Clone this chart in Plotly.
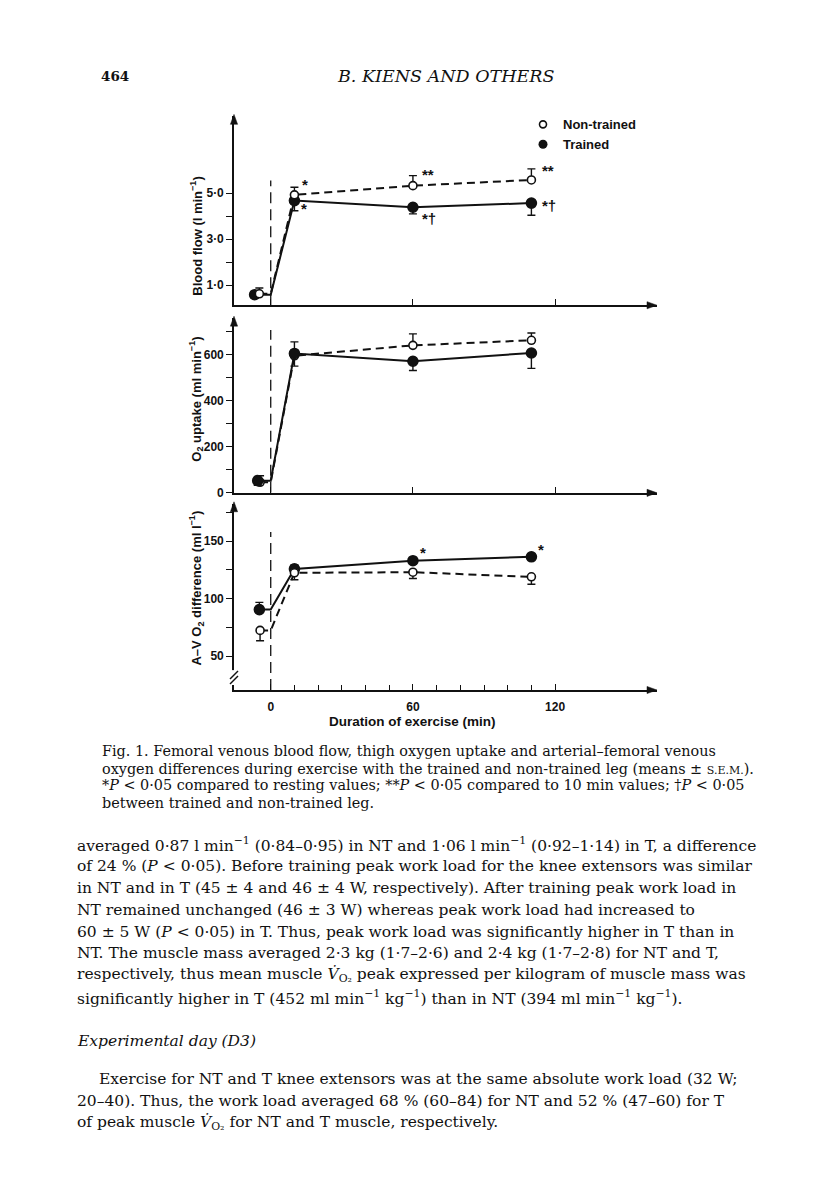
import plotly.graph_objects as go

W, H = 816, 1200

# ---------------- data ----------------
ex_times = [10, 60, 110]           # exercise sample times (min)
onset = 0                          # start of exercise (min)

# Blood flow (l/min): rest, 10, 60, 110
bf_rest_x_nt, bf_rest_x_t = -4.8, -6.8
bf_nt = [0.62, 4.93, 5.33, 5.58]
bf_nt_err = [0.25, 0.33, 0.44, 0.48]
bf_t = [0.58, 4.68, 4.39, 4.57]
bf_t_err = [0.15, 0.44, 0.29, 0.53]

# O2 uptake (ml/min)
vo_rest_x_nt, vo_rest_x_t = -4.5, -5.5
vo_nt = [46, 595, 640, 662]
vo_nt_err = [28, 60, 50, 32]
vo_t = [53, 605, 571, 607]
vo_t_err = [20, 55, 40, 67]

# A-V O2 difference (ml/l)
av_rest_x_nt, av_rest_x_t = -4.5, -4.8
av_nt = [72.4, 122.5, 123.0, 119.0]
av_nt_err = [9, 6, 5.5, 6.4]
av_t = [90.5, 125.9, 133.0, 136.4]
av_t_err = [6.3, 3.5, 1, 1]

bf_ticks, bf_ticktext, bf_minor = [1, 3, 5], ['1·0', '3·0', '5·0'], [2, 4]
vo_ticks, vo_ticktext, vo_minor = [0, 200, 400, 600], ['0', '200', '400', '600'], [100, 300, 500, 700]
av_ticks, av_ticktext, av_minor = [50, 100, 150], ['50', '100', '150'], [75, 125, 175]
x_ticks, x_ticktext = [0, 60, 120], ['0', '60', '120']
x_minor = [10, 20, 30, 40, 50, 70, 80, 90, 100, 110]

# ---------------- layout geometry ----------------
OFF = 8  # page body margin of the html page


def px_x(p):
    return (p - OFF) / W


def px_y(p):
    return 1 - (p - OFF) / H


XR = [-15.5, 163]
X_LEFT_PX, X_RIGHT_PX = 234, 657
XDOM = [px_x(X_LEFT_PX), px_x(X_RIGHT_PX)]
panels = [
    dict(bot=307, top=117, rng=[0.12, 8.35]),
    dict(bot=495.7, top=320, rng=[0, 758]),
    dict(bot=694, top=506.7, rng=[20.6, 182.5]),
]

SANS = 'Liberation Sans, Arial, sans-serif'
SERIF = 'DejaVu Serif, serif'
BLACK = '#111'

fig = go.Figure()


def add_series(xa, ya, rest_x, vals, errs, err_up, dashed, filled, name):
    lx = [rest_x, onset] + ex_times
    ly = [vals[0], vals[0]] + vals[1:]
    fig.add_trace(go.Scatter(
        x=lx, y=ly, mode='lines', xaxis=xa, yaxis=ya, showlegend=False,
        line=dict(color=BLACK, width=2, dash='8px,5px' if dashed else 'solid'),
        hoverinfo='skip'))
    mx = [rest_x] + ex_times
    zeros = [0] * len(vals)
    fig.add_trace(go.Scatter(
        x=mx, y=vals, mode='markers', xaxis=xa, yaxis=ya, name=name, showlegend=False,
        marker=dict(symbol='circle', size=10 if filled else 8,
                    color=BLACK if filled else 'white',
                    line=dict(color=BLACK, width=1.6)),
        error_y=dict(type='data', symmetric=False,
                     array=errs if err_up else zeros,
                     arrayminus=zeros if err_up else errs,
                     color=BLACK, thickness=1.4, width=4)))


# Panel 1 : blood flow
add_series('x', 'y', bf_rest_x_t, bf_t, bf_t_err, False, False, True, 'Trained')
add_series('x', 'y', bf_rest_x_nt, bf_nt, bf_nt_err, True, True, False, 'Non-trained')
# Panel 2 : O2 uptake
add_series('x2', 'y2', vo_rest_x_nt, vo_nt, vo_nt_err, True, True, False, 'Non-trained')
add_series('x2', 'y2', vo_rest_x_t, vo_t, vo_t_err, False, False, True, 'Trained')
# Panel 3 : A-V O2 difference
add_series('x3', 'y3', av_rest_x_t, av_t, av_t_err, True, False, True, 'Trained')
add_series('x3', 'y3', av_rest_x_nt, av_nt, av_nt_err, False, True, False, 'Non-trained')

# legend-only traces
fig.add_trace(go.Scatter(x=[None], y=[None], mode='markers', name='Non-trained',
                         marker=dict(size=7, color='white', line=dict(color=BLACK, width=1.6))))
fig.add_trace(go.Scatter(x=[None], y=[None], mode='markers', name='Trained',
                         marker=dict(size=9, color=BLACK)))

axis_common = dict(showgrid=False, zeroline=False, showline=True, linecolor=BLACK,
                   linewidth=1.6, tickcolor=BLACK, tickwidth=1.4,
                   tickfont=dict(family=SANS, size=12, color=BLACK, weight='bold'))

ytk = [(bf_ticks, bf_ticktext, bf_minor), (vo_ticks, vo_ticktext, vo_minor),
       (av_ticks, av_ticktext, av_minor)]
for i, p in enumerate(panels):
    sfx = '' if i == 0 else str(i + 1)
    last = (i == 2)
    xa = dict(axis_common, domain=XDOM, range=XR, anchor='y' + sfx,
              tickmode='array', tickvals=x_ticks, ticktext=x_ticktext,
              ticks='inside', ticklen=6, showticklabels=last)
    if last:
        xa['ticklabelstandoff'] = 5
        xa['minor'] = dict(tickmode='array', tickvals=x_minor, ticks='inside', ticklen=5,
                           tickcolor=BLACK, tickwidth=1.3, showgrid=False)
    fig.update_layout(**{
        'xaxis' + sfx: xa,
        'yaxis' + sfx: dict(axis_common, domain=[px_y(p['bot']), px_y(p['top'])],
                            range=p['rng'], anchor='x' + sfx,
                            tickmode='array', tickvals=ytk[i][0], ticktext=ytk[i][1],
                            ticks='outside', ticklen=6,
                            minor=dict(tickmode='array', tickvals=ytk[i][2], ticks='outside',
                                       ticklen=6, tickcolor=BLACK, tickwidth=1.4,
                                       showgrid=False)),
    })

shapes = []
annotations = []


def tri(tip, dirn):
    tx, ty = tip
    L, Wd = 10, 3.6
    if dirn == 'right':
        pts = [(tx, ty), (tx - L, ty - Wd), (tx - L, ty + Wd)]
    else:
        pts = [(tx, ty), (tx - Wd, ty + L), (tx + Wd, ty + L)]
    d = 'M ' + ' L '.join(f'{px_x(a):.5f},{px_y(b):.5f}' for a, b in pts) + ' Z'
    return dict(type='path', xref='paper', yref='paper', path=d,
                fillcolor=BLACK, line=dict(color=BLACK, width=0.5))


# exercise onset dashed lines + axis arrowheads
onset_tops = [5.55, 707, 158]
for i, p in enumerate(panels):
    sfx = '' if i == 0 else str(i + 1)
    shapes.append(dict(type='line', xref='x' + sfx, yref='y' + sfx, x0=onset, x1=onset,
                       y0=p['rng'][0], y1=onset_tops[i],
                       line=dict(color=BLACK, width=1.3, dash='11px,6px')))
    shapes.append(tri((X_RIGHT_PX, p['bot']), 'right'))
    shapes.append(tri((X_LEFT_PX, p['top'] - 2), 'up'))

# axis break on the lower y axis
shapes.append(dict(type='rect', xref='paper', yref='paper', x0=px_x(229), x1=px_x(239),
                   y0=px_y(689), y1=px_y(674), fillcolor='white', line=dict(width=0)))
for yy in (679, 684):
    shapes.append(dict(type='line', xref='paper', yref='paper', x0=px_x(230), x1=px_x(238),
                       y0=px_y(yy + 4), y1=px_y(yy - 4), line=dict(color=BLACK, width=1.4)))

# significance marks
marks = [
    ('x', 'y', ex_times[0], bf_nt[1], '*', 11, 10),
    ('x', 'y', ex_times[0], bf_t[1], '*', 10, -8),
    ('x', 'y', ex_times[1], bf_nt[2], '**', 15, 11),
    ('x', 'y', ex_times[1], bf_t[2], '*†', 16, -11),
    ('x', 'y', ex_times[2], bf_nt[3], '**', 17, 9),
    ('x', 'y', ex_times[2], bf_t[3], '*†', 18, -2),
    ('x3', 'y3', ex_times[1], av_t[2], '*', 10, 8),
    ('x3', 'y3', ex_times[2], av_t[3], '*', 10, 7),
]
for xa, ya, xv, yv, t, xs, ys in marks:
    annotations.append(dict(xref=xa, yref=ya, x=xv, y=yv, text=t, showarrow=False,
                            xshift=xs, yshift=ys, xanchor='center', yanchor='middle',
                            font=dict(family=SANS, size=15, color=BLACK, weight='bold')))


def txt(text, x, y, size, family, xanchor='left', angle=0, weight='normal'):
    annotations.append(dict(xref='paper', yref='paper', x=px_x(x), y=px_y(y), text=text,
                            xanchor=xanchor, yanchor='middle', textangle=angle,
                            showarrow=False,
                            font=dict(family=family, size=size, color=BLACK, weight=weight)))


# y axis titles
txt('Blood flow (l min<sup>−1</sup>)', 196, 238, 13, SANS, 'center', -90, 'bold')
txt('O<sub>2</sub> uptake (ml min<sup>−1</sup>)', 196, 402, 13, SANS, 'center', -90, 'bold')
txt('A–V O<sub>2</sub> difference (ml l<sup>−1</sup>)', 196, 592, 13, SANS, 'center', -90, 'bold')
txt('Duration of exercise (min)', 412, 726, 13.5, SANS, 'center', 0, 'bold')

# page text
txt('<b>464</b>', 99, 76, 13.5, SERIF)
txt('<i>B. KIENS AND OTHERS</i>', 445, 76, 17.5, SERIF, 'center')

sem = "<span style='font-size:11px'>S.E.M.</span>"
caption = [
    ('Fig. 1. Femoral venous blood flow, thigh oxygen uptake and arterial–femoral venous', 100, 755),
    ('oxygen differences during exercise with the trained and non-trained leg (means ± ' + sem + ').', 100, 773),
    ('*<i>P</i> < 0·05 compared to resting values; **<i>P</i> < 0·05 compared to 10 min values; †<i>P</i> < 0·05', 100, 790),
    ('between trained and non-trained leg.', 100, 808),
]
for t, xl, yc in caption:
    txt(t, xl, yc, 14.4, SERIF)

vo2 = "<i>V̇</i><sub>O₂</sub>"
body = [
    ('averaged 0·87 l min<sup>−1</sup> (0·84–0·95) in NT and 1·06 l min<sup>−1</sup> (0·92–1·14) in T, a difference', 75, 849),
    ('of 24 % (<i>P</i> < 0·05). Before training peak work load for the knee extensors was similar', 75, 871),
    ('in NT and in T (45 ± 4 and 46 ± 4 W, respectively). After training peak work load in', 75, 893),
    ('NT remained unchanged (46 ± 3 W) whereas peak work load had increased to', 75, 915),
    ('60 ± 5 W (<i>P</i> < 0·05) in T. Thus, peak work load was significantly higher in T than in', 75, 937),
    ('NT. The muscle mass averaged 2·3 kg (1·7–2·6) and 2·4 kg (1·7–2·8) for NT and T,', 75, 959),
    ('respectively, thus mean muscle ' + vo2 + ' peak expressed per kilogram of muscle mass was', 75, 981),
    ('significantly higher in T (452 ml min<sup>−1</sup> kg<sup>−1</sup>) than in NT (394 ml min<sup>−1</sup> kg<sup>−1</sup>).', 75, 1003),
    ('<i>Experimental day (D3)</i>', 75, 1047),
    ('Exercise for NT and T knee extensors was at the same absolute work load (32 W;', 97, 1085),
    ('20–40). Thus, the work load averaged 68 % (60–84) for NT and 52 % (47–60) for T', 75, 1107),
    ('of peak muscle ' + vo2 + ' for NT and T muscle, respectively.', 75, 1130),
]
for t, xl, yc in body:
    txt(t, xl, yc, 15.5, SERIF)

fig.update_layout(
    width=W, height=H, margin=dict(l=0, r=0, t=0, b=0, pad=0),
    paper_bgcolor='white', plot_bgcolor='white',
    shapes=shapes, annotations=annotations,
    showlegend=True,
    legend=dict(x=px_x(523), y=px_y(110), xanchor='left', yanchor='top',
                bgcolor='rgba(0,0,0,0)', borderwidth=0, tracegroupgap=0,
                font=dict(family=SANS, size=13, color=BLACK, weight='bold')),
)

fig.write_html('out.html')
